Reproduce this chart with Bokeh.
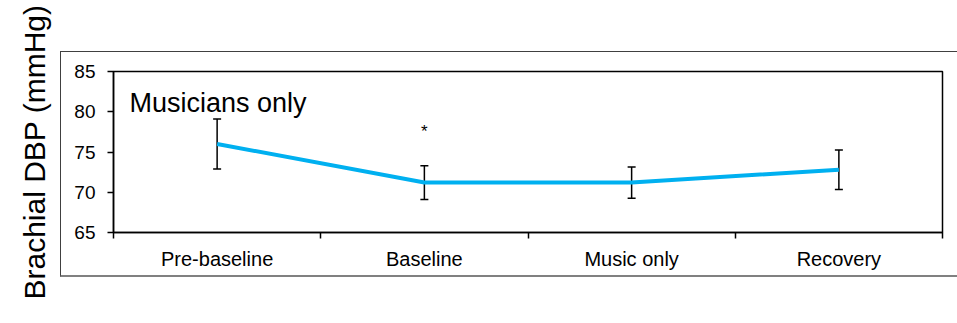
from bokeh.plotting import figure
from bokeh.models import Range1d, FixedTicker, Whisker, ColumnDataSource, Label, InlineStyleSheet
from bokeh.embed import file_html
from bokeh.resources import INLINE
from bokeh.core.properties import value

categories = ["Pre-baseline", "Baseline", "Music only", "Recovery"]
means = [76.0, 71.2, 71.2, 72.8]
errors = [3.1, 2.1, 1.95, 2.45]
y_ticks = [65, 70, 75, 80, 85]
star_category = "Baseline"
star_y = 77.6

FONT = "Liberation Sans"

xs = [i + 0.5 for i in range(len(categories))]
src = ColumnDataSource(dict(
    x=xs, y=means,
    upper=[m + e for m, e in zip(means, errors)],
    lower=[m - e for m, e in zip(means, errors)],
))

p = figure(width=957, height=323, output_backend="svg", toolbar_location=None,
           x_range=Range1d(0, len(categories)), y_range=Range1d(y_ticks[0], y_ticks[-1]),
           min_border_left=113, min_border_right=15, min_border_top=71, min_border_bottom=91)

p.background_fill_color = "white"
p.border_fill_color = "white"
p.outline_line_color = "black"
p.outline_line_width = 1.5
p.xgrid.visible = False
p.ygrid.visible = False

# outer chart-area box (drawn by CSS over the canvas, transparent inside)
p.stylesheets = [InlineStyleSheet(css="""
:host { position: relative; }
:host::after {
  content: '';
  position: absolute;
  left: 60px; top: 51px; width: 905px; height: 226px;
  box-sizing: border-box;
  border-left: 1px solid #404040;
  border-top: 1px solid #404040;
  border-right: 1px solid #404040;
  border-bottom: 2px solid #808080;
  pointer-events: none;
}
""")]

# y axis
ya = p.yaxis[0]
ya.ticker = FixedTicker(ticks=y_ticks)
ya.axis_line_color = "black"
ya.axis_line_width = 1.5
ya.major_tick_in = 0
ya.major_tick_out = 6
ya.major_tick_line_color = "black"
ya.major_tick_line_width = 1.5
ya.minor_tick_line_color = None
ya.major_label_text_font = FONT
ya.major_label_text_font_size = "19px"
ya.major_label_text_color = "black"
ya.major_label_standoff = 12
ya.axis_label = "Brachial DBP (mmHg)"
ya.axis_label_text_font = FONT
ya.axis_label_text_font_size = "30px"
ya.axis_label_text_font_style = "normal"
ya.axis_label_text_color = "black"
ya.axis_label_standoff = 20

# x axis
xa = p.xaxis[0]
xa.ticker = FixedTicker(ticks=xs, minor_ticks=list(range(len(categories) + 1)))
xa.major_label_overrides = {x: c for x, c in zip(xs, categories)}
xa.axis_line_color = "black"
xa.axis_line_width = 1.5
xa.major_tick_in = 0
xa.major_tick_out = 0
xa.major_tick_line_color = None
xa.minor_tick_in = 0
xa.minor_tick_out = 6
xa.minor_tick_line_color = "black"
xa.minor_tick_line_width = 1.5
xa.major_label_text_font = FONT
xa.major_label_text_font_size = "20px"
xa.major_label_text_color = "black"
xa.major_label_standoff = 9

# line
p.line("x", "y", source=src, line_color="#00B0F0", line_width=4)

# error bars
wh = Whisker(source=src, base="x", upper="upper", lower="lower",
             line_color="black", line_width=1.5)
wh.upper_head.size = 8
wh.lower_head.size = 8
wh.upper_head.line_width = 1.5
wh.lower_head.line_width = 1.5
p.add_layout(wh)

# significance star
p.text(x=[xs[categories.index(star_category)]], y=[star_y], text=["*"],
       text_font=value(FONT), text_font_size="17px", text_color="black",
       text_align="center", text_baseline="middle")

# panel label
p.add_layout(Label(x=0, y=y_ticks[-1], x_offset=16, y_offset=-31,
                   text="Musicians only", text_font=FONT, text_font_size="27px",
                   text_color="black", text_baseline="alphabetic"))

open("out.html", "w").write(file_html(p, INLINE))
